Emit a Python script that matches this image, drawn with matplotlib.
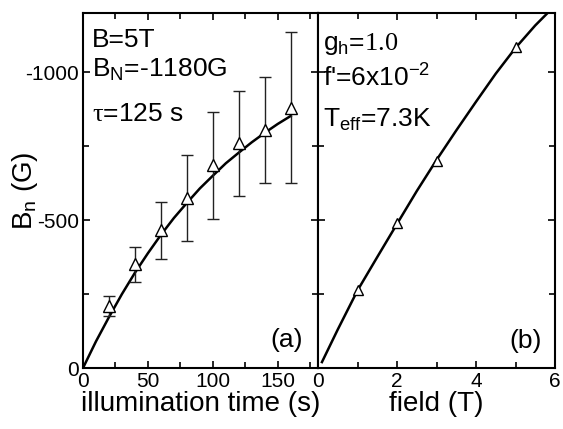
import numpy as np, matplotlib
matplotlib.use("Agg")
import matplotlib.pyplot as plt
from matplotlib.ticker import MultipleLocator

plt.rcParams["axes.unicode_minus"] = False
plt.rcParams["font.family"] = ["Liberation Sans", "DejaVu Sans"]
plt.rcParams["mathtext.fontset"] = "custom"
plt.rcParams["mathtext.rm"] = "Liberation Sans"
plt.rcParams["mathtext.sf"] = "Liberation Serif"
plt.rcParams["mathtext.it"] = "Liberation Sans:italic"

# (a) nuclear field vs illumination time
t_pts = [20, 40, 60, 80, 100, 120, 140, 160]
bn_pts = [-210, -350, -465, -575, -685, -760, -805, -880]
bn_err = [35, 60, 97, 145, 180, 178, 178, 255]
t_fit = [0, 10, 20, 30, 40, 50, 60, 70, 80, 90, 100, 110, 120, 130, 140, 150, 160]
bn_fit = [0, -90, -172, -250, -322, -388, -450, -507, -558, -607, -650, -692,
          -728, -763, -795, -825, -852]

# (b) nuclear field vs magnetic field
f_pts = [1, 2, 3, 5]
bf_pts = [-265, -490, -700, -1085]
f_fit = [0.1, 0.5, 1, 1.5, 2, 2.5, 3, 3.5, 4, 4.5, 5, 5.5, 5.85]
bf_fit = [-20, -130, -262, -375, -487, -598, -703, -803, -900, -995, -1082,
          -1158, -1205]

fig = plt.figure(figsize=(5.63, 4.29), dpi=100)
axa = fig.add_axes([83/563, 61/429, 235/563, 355/429])
axb = fig.add_axes([318/563, 61/429, 237/563, 355/429])

for ax in (axa, axb):
    for s in ax.spines.values():
        s.set_linewidth(1.5)
    ax.tick_params(which="both", direction="in", top=True, right=True, width=1.2,
                   labelsize=15, pad=3)
    ax.tick_params(which="major", length=5)
    ax.tick_params(which="minor", length=4)
    ax.set_ylim(0, -1200)
    ax.yaxis.set_major_locator(MultipleLocator(500))
    ax.yaxis.set_minor_locator(MultipleLocator(250))

axa.errorbar(t_pts, bn_pts, yerr=bn_err, fmt="^", mfc="white", mec="black",
             ms=8, mew=1, ecolor="#222222", elinewidth=1, capsize=4, capthick=1,
             zorder=3)
axa.plot(t_fit, bn_fit, color="black", lw=1.8, zorder=2)
axa.set_xlim(0, 181)
axa.xaxis.set_major_locator(MultipleLocator(50))
axa.xaxis.set_minor_locator(MultipleLocator(25))
axa.set_yticks([0, -500, -1000])
axa.set_yticklabels(["0", "-500", "-1000"])
axa.set_xticks([0, 50, 100, 150])
axa.set_xlabel("illumination time (s)", fontsize=20, labelpad=0)
axa.set_ylabel(r"B$_\mathrm{n}$ (G)", fontsize=20)
axa.yaxis.set_label_coords(-0.185, 0.5)
axa.text(0.038, 0.904, "B=5T", transform=axa.transAxes, fontsize=19, va="baseline")
axa.text(0.038, 0.820, r"B$_\mathrm{N}$=-1180G", transform=axa.transAxes,
         fontsize=19, va="baseline")
axa.text(0.038, 0.696, r"$\mathsf{\tau}$=125 s", transform=axa.transAxes,
         fontsize=19, va="baseline")
axa.text(0.936, 0.059, "(a)", transform=axa.transAxes, fontsize=19,
         ha="right", va="baseline")

axb.plot(f_pts, bf_pts, "^", mfc="white", mec="black", ms=6.5, mew=1, zorder=3)
axb.plot(f_fit, bf_fit, color="black", lw=1.8, zorder=2)
axb.set_xlim(0, 6)
axb.xaxis.set_major_locator(MultipleLocator(2))
axb.xaxis.set_minor_locator(MultipleLocator(1))
axb.tick_params(labelleft=False)
axb.set_xlabel("field (T)", fontsize=20, labelpad=0)
axb.text(0.02, 0.896, r"g$_\mathrm{h}$=$\mathsf{1.0}$", transform=axb.transAxes,
         fontsize=19, va="baseline")
axb.text(0.02, 0.792, r"f'=6x10$^{\mathrm{-2}}$", transform=axb.transAxes,
         fontsize=19, va="baseline")
axb.text(0.02, 0.679, r"T$_\mathrm{eff}$=7.3K", transform=axb.transAxes,
         fontsize=19, va="baseline")
axb.text(0.945, 0.056, "(b)", transform=axb.transAxes, fontsize=19,
         ha="right", va="baseline")

plt.savefig("out.png", dpi=100)
plt.close()
